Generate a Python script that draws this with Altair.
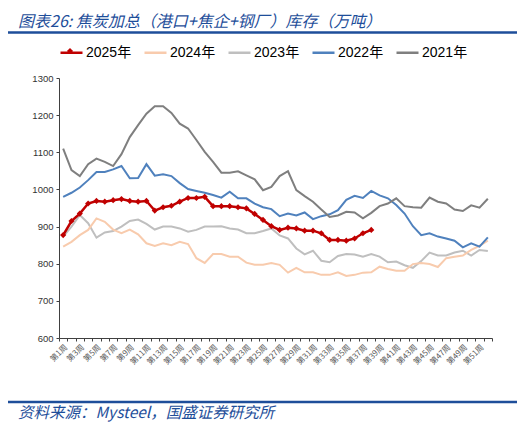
"""Coke total inventory (port + coking plants + steel mills) by week, 2021-2025."""

import altair as alt
import pandas as pd

weeks = list(range(1, 53))
years = ["2025年", "2024年", "2023年", "2022年", "2021年"]
colors = ["#C00000", "#F8CBAD", "#BFBFBF", "#4F81BD", "#7F7F7F"]

stock_2025 = [
    877, 915, 935, 962, 969, 967, 971, 974, 969, 967,
    969, 943, 952, 956, 967, 977, 977, 980, 955, 955,
    955, 952, 949, 934, 918, 901, 891, 897, 895, 889,
    889, 882, 864, 864, 862, 868, 882, 891,
]
stock_2024 = [
    846, 859, 877, 891, 922, 913, 892, 882, 892, 879,
    855, 848, 855, 850, 859, 853, 815, 802, 826, 826,
    819, 819, 803, 797, 797, 802, 797, 776, 789, 777,
    777, 770, 770, 777, 767, 770, 776, 777, 792, 786,
    781, 781, 799, 802, 799, 791, 815, 819, 822, 837,
    848, 862,
]
stock_2023 = [
    873, 900, 931, 909, 870, 884, 888, 900, 915, 919,
    907, 892, 900, 900, 895, 886, 891, 900, 900, 901,
    895, 892, 882, 882, 888, 895, 876, 868, 841, 825,
    835, 808, 804, 821, 826, 825, 819, 826, 819, 804,
    806, 796, 789, 807, 830, 822, 822, 830, 835, 822,
    837, 834,
]
stock_2022 = [
    980, 991, 1005, 1025, 1047, 1047, 1054, 1063, 1030, 1031,
    1068, 1037, 1041, 1036, 1017, 1001, 996, 991, 985, 978,
    994, 976, 976, 962, 952, 947, 928, 935, 930, 938,
    920, 928, 933, 944, 972, 983, 977, 996, 984, 976,
    958, 935, 901, 877, 882, 873, 868, 862, 844, 855,
    846, 871,
]
stock_2021 = [
    1110, 1052, 1036, 1068, 1083, 1074, 1063, 1095, 1141, 1173,
    1204, 1224, 1224, 1206, 1177, 1164, 1133, 1101, 1074, 1045,
    1045, 1049, 1038, 1027, 998, 1007, 1036, 1049, 998, 982,
    967, 946, 926, 930, 940, 938, 922, 937, 955, 962,
    976, 955, 952, 951, 978, 967, 962, 946, 942, 957,
    951, 975,
]

title_text = "图表26: 焦炭加总（港口+焦企+钢厂）库存（万吨）"
source_text = "资料来源：Mysteel，国盛证券研究所"

series = {
    "2025年": stock_2025,
    "2024年": stock_2024,
    "2023年": stock_2023,
    "2022年": stock_2022,
    "2021年": stock_2021,
}
rows = []
for year, values in series.items():
    for week, value in zip(weeks, values):
        rows.append({"year": year, "week": week, "stock": value})
df = pd.DataFrame(rows)

FONT = "Liberation Sans, Noto Sans CJK SC, sans-serif"
CJK = "Noto Sans CJK SC"
BLUE = "#1E4E9A"
RED = "#C00000"

color_scale = alt.Scale(domain=years, range=colors)

legend = alt.Legend(
    title=None,
    orient="none",
    legendX=0,
    legendY=-38,
    direction="horizontal",
    symbolType="stroke",
    symbolSize=484,
    symbolStrokeWidth=2.5,
    labelFont=FONT,
    labelFontSize=14,
    labelColor="#000000",
    labelOffset=2,
    columnPadding=7,
    padding=0,
)

x_enc = alt.X(
    "week:O",
    bandPosition=0.5,
    scale=alt.Scale(type="band", paddingInner=0, paddingOuter=0),
    axis=alt.Axis(
        title=None,
        tickBand="extent",
        tickSize=3,
        tickColor="#404040",
        domainColor="#404040",
        labelAngle=-45,
        labelFont=CJK,
        labelFontSize=8,
        labelColor="#595959",
        labelPadding=2,
        labelExpr="datum.value % 2 == 1 ? '第' + datum.value + '周' : ''",
    ),
)
y_enc = alt.Y(
    "stock:Q",
    scale=alt.Scale(domain=[600, 1300]),
    axis=alt.Axis(
        title=None,
        values=list(range(600, 1301, 100)),
        format="d",
        tickSize=3,
        tickColor="#404040",
        domainColor="#404040",
        labelFont=FONT,
        labelFontSize=9.5,
        labelColor="#333333",
        labelPadding=3,
    ),
)

# Older years first so 2025 ends up on top
layers = []
for year in ["2023年", "2024年", "2022年", "2021年", "2025年"]:
    layers.append(
        alt.Chart(df[df["year"] == year])
        .mark_line(strokeWidth=2.5 if year == "2025年" else 2)
        .encode(
            x=x_enc,
            y=y_enc,
            color=alt.Color("year:N", scale=color_scale, legend=legend),
        )
    )

markers = (
    alt.Chart(df[df["year"] == "2025年"])
    .mark_point(shape="diamond", filled=True, size=38, opacity=1, color=RED)
    .encode(x=x_enc, y=y_enc)
)

# Diamond on the 2025 legend stroke
legend_marker = (
    alt.Chart(pd.DataFrame({"r": [0]}))
    .mark_point(shape="diamond", filled=True, size=38, opacity=1, color=RED)
    .encode(x=alt.value(11), y=alt.value(-27))
)

title = (
    alt.Chart(pd.DataFrame({"text": [title_text]}))
    .mark_text(align="left", baseline="middle", font=CJK, fontSize=16,
               fontStyle="italic", color=BLUE)
    .encode(text="text:N", x=alt.value(-41), y=alt.value(-56))
)
source = (
    alt.Chart(pd.DataFrame({"text": [source_text]}))
    .mark_text(align="left", baseline="middle", font=CJK, fontSize=15.5,
               fontStyle="italic", color=BLUE)
    .encode(text="text:N", x=alt.value(-41), y=alt.value(335))
)
top_rule = (
    alt.Chart(pd.DataFrame({"r": [0]}))
    .mark_rule(color=BLUE, strokeWidth=2.5)
    .encode(x=alt.value(-54), x2=alt.value(458), y=alt.value(-45.5))
)
bottom_rule = (
    alt.Chart(pd.DataFrame({"r": [0]}))
    .mark_rule(color=BLUE, strokeWidth=2.5)
    .encode(x=alt.value(-54), x2=alt.value(458), y=alt.value(324))
)

chart = (
    alt.layer(*layers, markers, legend_marker, title, source, top_rule, bottom_rule)
    .properties(
        width=433,
        height=260,
        autosize=alt.AutoSizeParams(type="none"),
        padding={"left": 51, "top": 70, "right": 26, "bottom": 88},
    )
    .configure_view(stroke=None)
    .configure_axis(grid=False)
)

chart.save("out.html", embed_options={"renderer": "svg", "actions": False})
